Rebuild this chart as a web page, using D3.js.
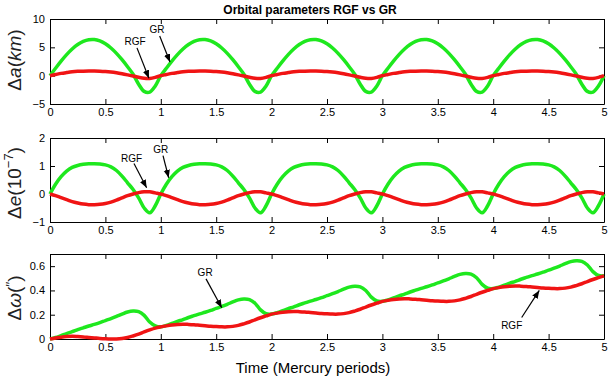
<!DOCTYPE html>
<html>
<head>
<meta charset="utf-8">
<script src="https://cdn.jsdelivr.net/npm/d3@7"></script>
<style>
  body { margin: 0; background: #fff; }
  text { font-family: "Liberation Sans", Arial, sans-serif; }
</style>
</head>
<body>
<div id="chart"></div>
<script>
// time in Mercury periods, one sample every 0.05
const time = d3.range(101).map(i => +(i * 0.05).toFixed(2));

// delta a (km)
const grA = [
  0, 1.31, 2.57, 3.72, 4.71, 5.50, 6.05, 6.35, 6.38, 6.13, 5.63, 4.88, 3.94, 2.82, 1.58, 0.26, -1.5, -2.77, -2.9, -1.82,
  0, 1.31, 2.57, 3.72, 4.71, 5.50, 6.05, 6.35, 6.38, 6.13, 5.63, 4.88, 3.94, 2.82, 1.58, 0.26, -1.5, -2.77, -2.9, -1.82,
  0, 1.31, 2.57, 3.72, 4.71, 5.50, 6.05, 6.35, 6.38, 6.13, 5.63, 4.88, 3.94, 2.82, 1.58, 0.26, -1.5, -2.77, -2.9, -1.82,
  0, 1.31, 2.57, 3.72, 4.71, 5.50, 6.05, 6.35, 6.38, 6.13, 5.63, 4.88, 3.94, 2.82, 1.58, 0.26, -1.5, -2.77, -2.9, -1.82,
  0, 1.31, 2.57, 3.72, 4.71, 5.50, 6.05, 6.35, 6.38, 6.13, 5.63, 4.88, 3.94, 2.82, 1.58, 0.26, -1.5, -2.77, -2.9, -1.82,
  0
];
const rgfA = [
  0, 0.2, 0.4, 0.55, 0.68, 0.76, 0.8, 0.82, 0.82, 0.8, 0.74, 0.64, 0.5, 0.33, 0.14, -0.06, -0.28, -0.45, -0.48, -0.3,
  0, 0.2, 0.4, 0.55, 0.68, 0.76, 0.8, 0.82, 0.82, 0.8, 0.74, 0.64, 0.5, 0.33, 0.14, -0.06, -0.28, -0.45, -0.48, -0.3,
  0, 0.2, 0.4, 0.55, 0.68, 0.76, 0.8, 0.82, 0.82, 0.8, 0.74, 0.64, 0.5, 0.33, 0.14, -0.06, -0.28, -0.45, -0.48, -0.3,
  0, 0.2, 0.4, 0.55, 0.68, 0.76, 0.8, 0.82, 0.82, 0.8, 0.74, 0.64, 0.5, 0.33, 0.14, -0.06, -0.28, -0.45, -0.48, -0.3,
  0, 0.2, 0.4, 0.55, 0.68, 0.76, 0.8, 0.82, 0.82, 0.8, 0.74, 0.64, 0.5, 0.33, 0.14, -0.06, -0.28, -0.45, -0.48, -0.3,
  0
];

// delta e (1e-7)
const grE = [
  0, 0.35, 0.62, 0.82, 0.95, 1.02, 1.06, 1.08, 1.08, 1.07, 1.04, 0.97, 0.84, 0.64, 0.4, 0.16, -0.14, -0.5, -0.67, -0.42,
  0, 0.35, 0.62, 0.82, 0.95, 1.02, 1.06, 1.08, 1.08, 1.07, 1.04, 0.97, 0.84, 0.64, 0.4, 0.16, -0.14, -0.5, -0.67, -0.42,
  0, 0.35, 0.62, 0.82, 0.95, 1.02, 1.06, 1.08, 1.08, 1.07, 1.04, 0.97, 0.84, 0.64, 0.4, 0.16, -0.14, -0.5, -0.67, -0.42,
  0, 0.35, 0.62, 0.82, 0.95, 1.02, 1.06, 1.08, 1.08, 1.07, 1.04, 0.97, 0.84, 0.64, 0.4, 0.16, -0.14, -0.5, -0.67, -0.42,
  0, 0.35, 0.62, 0.82, 0.95, 1.02, 1.06, 1.08, 1.08, 1.07, 1.04, 0.97, 0.84, 0.64, 0.4, 0.16, -0.14, -0.5, -0.67, -0.42,
  0
];
const rgfE = [
  0, -0.06, -0.13, -0.2, -0.27, -0.32, -0.36, -0.38, -0.38, -0.37, -0.34, -0.29, -0.22, -0.14, -0.06, 0, 0.05, 0.08, 0.08, 0.04,
  0, -0.06, -0.13, -0.2, -0.27, -0.32, -0.36, -0.38, -0.38, -0.37, -0.34, -0.29, -0.22, -0.14, -0.06, 0, 0.05, 0.08, 0.08, 0.04,
  0, -0.06, -0.13, -0.2, -0.27, -0.32, -0.36, -0.38, -0.38, -0.37, -0.34, -0.29, -0.22, -0.14, -0.06, 0, 0.05, 0.08, 0.08, 0.04,
  0, -0.06, -0.13, -0.2, -0.27, -0.32, -0.36, -0.38, -0.38, -0.37, -0.34, -0.29, -0.22, -0.14, -0.06, 0, 0.05, 0.08, 0.08, 0.04,
  0, -0.06, -0.13, -0.2, -0.27, -0.32, -0.36, -0.38, -0.38, -0.37, -0.34, -0.29, -0.22, -0.14, -0.06, 0, 0.05, 0.08, 0.08, 0.04,
  0
];

// delta omega (arcsec)
const grW = [
  0, 0.012, 0.028, 0.045, 0.06, 0.077, 0.092, 0.107, 0.12, 0.135, 0.152, 0.168, 0.186, 0.205, 0.222, 0.23, 0.225, 0.195, 0.14, 0.108,
  0.1, 0.112, 0.128, 0.145, 0.16, 0.177, 0.192, 0.207, 0.22, 0.235, 0.252, 0.268, 0.286, 0.305, 0.322, 0.33, 0.325, 0.295, 0.24, 0.208,
  0.205, 0.217, 0.233, 0.25, 0.265, 0.282, 0.297, 0.312, 0.325, 0.34, 0.357, 0.373, 0.391, 0.41, 0.427, 0.435, 0.43, 0.4, 0.345, 0.313,
  0.31, 0.322, 0.338, 0.355, 0.37, 0.387, 0.402, 0.417, 0.43, 0.445, 0.462, 0.478, 0.496, 0.515, 0.532, 0.54, 0.535, 0.505, 0.45, 0.418,
  0.415, 0.427, 0.443, 0.46, 0.475, 0.492, 0.507, 0.522, 0.535, 0.55, 0.567, 0.583, 0.601, 0.62, 0.637, 0.645, 0.64, 0.61, 0.555, 0.523,
  0.52
];
const rgfW = [
  0, 0.008, 0.015, 0.02, 0.022, 0.02, 0.017, 0.013, 0.009, 0.005, 0.002, 0, 0, 0.004, 0.012, 0.025, 0.04, 0.058, 0.075, 0.09,
  0.1, 0.108, 0.115, 0.12, 0.122, 0.12, 0.117, 0.113, 0.109, 0.105, 0.102, 0.1, 0.1, 0.104, 0.112, 0.125, 0.14, 0.158, 0.175, 0.19,
  0.205, 0.213, 0.22, 0.225, 0.227, 0.225, 0.222, 0.218, 0.214, 0.21, 0.207, 0.205, 0.205, 0.209, 0.217, 0.23, 0.245, 0.263, 0.28, 0.295,
  0.31, 0.318, 0.325, 0.33, 0.332, 0.33, 0.327, 0.323, 0.319, 0.315, 0.312, 0.31, 0.31, 0.314, 0.322, 0.335, 0.35, 0.368, 0.385, 0.4,
  0.415, 0.423, 0.43, 0.435, 0.437, 0.435, 0.432, 0.428, 0.424, 0.42, 0.417, 0.415, 0.415, 0.419, 0.427, 0.44, 0.455, 0.473, 0.49, 0.505,
  0.52
];

// tick labels
const xTicks = [0, 0.5, 1, 1.5, 2, 2.5, 3, 3.5, 4, 4.5, 5];
const yTicksA = [-5, 0, 5, 10];
const yTicksE = [-1, 0, 1, 2];
const yTicksW = [0, 0.2, 0.4, 0.6];

// annotations: label position, arrow tail, arrow tip (data coords)
const notesA = [
  {text: "RGF", lx: 0.767, ly: 6.0, x1: 0.785, y1: 4.9, x2: 0.893, y2: -0.45},
  {text: "GR", lx: 0.966, ly: 8.1, x1: 0.99, y1: 7.0, x2: 1.083, y2: 2.4}
];
const notesE = [
  {text: "RGF", lx: 0.737, ly: 1.27, x1: 0.758, y1: 1.09, x2: 0.872, y2: 0.22},
  {text: "GR", lx: 1.0, ly: 1.6, x1: 1.02, y1: 1.37, x2: 1.071, y2: 0.58}
];
const notesW = [
  {text: "GR", lx: 1.40, ly: 0.545, x1: 1.408, y1: 0.495, x2: 1.55, y2: 0.258},
  {text: "RGF", lx: 4.167, ly: 0.115, x1: 4.257, y1: 0.177, x2: 4.416, y2: 0.40}
];

const width = 608, height = 381;
const left = 50, right = 604;
const green = "#1ee81e", red = "#f01414";

const svg = d3.select("#chart")
  .append("svg")
    .attr("width", width)
    .attr("height", height);

svg.append("defs").append("marker")
    .attr("id", "arrow")
    .attr("viewBox", "0 0 10 10")
    .attr("refX", 10).attr("refY", 5)
    .attr("markerWidth", 8).attr("markerHeight", 8)
    .attr("markerUnits", "userSpaceOnUse")
    .attr("orient", "auto")
  .append("path")
    .attr("d", "M0,1 L10,5 L0,9 z")
    .attr("fill", "#000");

const x = d3.scaleLinear().domain([0, 5]).range([left, right]);

const panels = [
  {top: 19, bottom: 104, domain: [-5, 10], ticks: yTicksA, gr: grA, rgf: rgfA, notes: notesA, ly: 60},
  {top: 138, bottom: 222, domain: [-1, 2], ticks: yTicksE, gr: grE, rgf: rgfE, notes: notesE, ly: 183},
  {top: 254, bottom: 339, domain: [0, 0.7], ticks: yTicksW, gr: grW, rgf: rgfW, notes: notesW, ly: 298}
];

panels.forEach(function(p, i) {
  const y = d3.scaleLinear().domain(p.domain).range([p.bottom, p.top]);
  const g = svg.append("g");

  // axes with inward ticks on all four sides
  g.append("g")
    .attr("transform", `translate(0, ${p.bottom})`)
    .call(d3.axisBottom(x).tickValues(xTicks).tickFormat(d3.format("~g"))
      .tickSizeInner(-5).tickSizeOuter(0).tickPadding(4));
  g.append("g")
    .attr("transform", `translate(0, ${p.top})`)
    .call(d3.axisTop(x).tickValues(xTicks).tickFormat("")
      .tickSizeInner(-5).tickSizeOuter(0));
  g.append("g")
    .attr("transform", `translate(${left}, 0)`)
    .call(d3.axisLeft(y).tickValues(p.ticks).tickFormat(d3.format("~g"))
      .tickSizeInner(-5).tickSizeOuter(0).tickPadding(5));
  g.append("g")
    .attr("transform", `translate(${right}, 0)`)
    .call(d3.axisRight(y).tickValues(p.ticks).tickFormat("")
      .tickSizeInner(-5).tickSizeOuter(0));

  g.selectAll(".tick text")
    .attr("font-size", 11)
    .attr("font-family", "'Liberation Sans', Arial, sans-serif")
    .attr("fill", "#000");
  g.selectAll(".domain").attr("stroke", "#000");
  g.selectAll(".tick line").attr("stroke", "#000");

  const line = d3.line()
    .x((d, j) => x(time[j]))
    .y(d => y(d))
    .curve(d3.curveCatmullRom);

  g.append("path")
    .attr("fill", "none")
    .attr("stroke", green)
    .attr("stroke-width", 3.5)
    .attr("stroke-linejoin", "round")
    .attr("d", line(p.gr));
  g.append("path")
    .attr("fill", "none")
    .attr("stroke", red)
    .attr("stroke-width", 3.5)
    .attr("stroke-linejoin", "round")
    .attr("d", line(p.rgf));

  // labels and arrows
  p.notes.forEach(function(n) {
    g.append("line")
      .attr("x1", x(n.x1)).attr("y1", y(n.y1))
      .attr("x2", x(n.x2)).attr("y2", y(n.y2))
      .attr("stroke", "#000")
      .attr("stroke-width", 1.2)
      .attr("marker-end", "url(#arrow)");
    g.append("text")
      .attr("x", x(n.lx)).attr("y", y(n.ly))
      .attr("text-anchor", "middle")
      .attr("dominant-baseline", "central")
      .attr("font-size", 10)
      .text(n.text);
  });

  // y label, LaTeX-like serif
  const lab = svg.append("text")
    .attr("transform", `translate(21, ${p.ly}) rotate(-90)`)
    .attr("text-anchor", "middle")
    .attr("font-family", "'Liberation Serif', 'DejaVu Serif', serif")
    .attr("font-size", 19)
    .attr("fill", "#222");
  if (i === 0) {
    lab.append("tspan").text("Δ");
    lab.append("tspan").attr("font-style", "italic").text("a");
    lab.append("tspan").text("(");
    lab.append("tspan").attr("font-style", "italic").text("km");
    lab.append("tspan").text(")");
  } else if (i === 1) {
    lab.append("tspan").text("Δ");
    lab.append("tspan").attr("font-style", "italic").text("e");
    lab.append("tspan").text("(10");
    lab.append("tspan").attr("font-size", 13).attr("dy", -8).text("−7");
    lab.append("tspan").attr("dy", 8).text(")");
  } else {
    lab.append("tspan").text("Δ");
    lab.append("tspan").attr("font-style", "italic").text("ω");
    lab.append("tspan").text("(");
    lab.append("tspan").attr("font-size", 13).attr("dy", -6).text("′′");
    lab.append("tspan").attr("dy", 6).text(")");
  }
});

// title and x label
svg.append("text")
  .attr("x", 310).attr("y", 14)
  .attr("text-anchor", "middle")
  .attr("font-size", 12)
  .attr("font-weight", "bold")
  .text("Orbital parameters RGF vs GR");

svg.append("text")
  .attr("x", 313).attr("y", 373)
  .attr("text-anchor", "middle")
  .attr("font-size", 15)
  .text("Time (Mercury periods)");
</script>
</body>
</html>
